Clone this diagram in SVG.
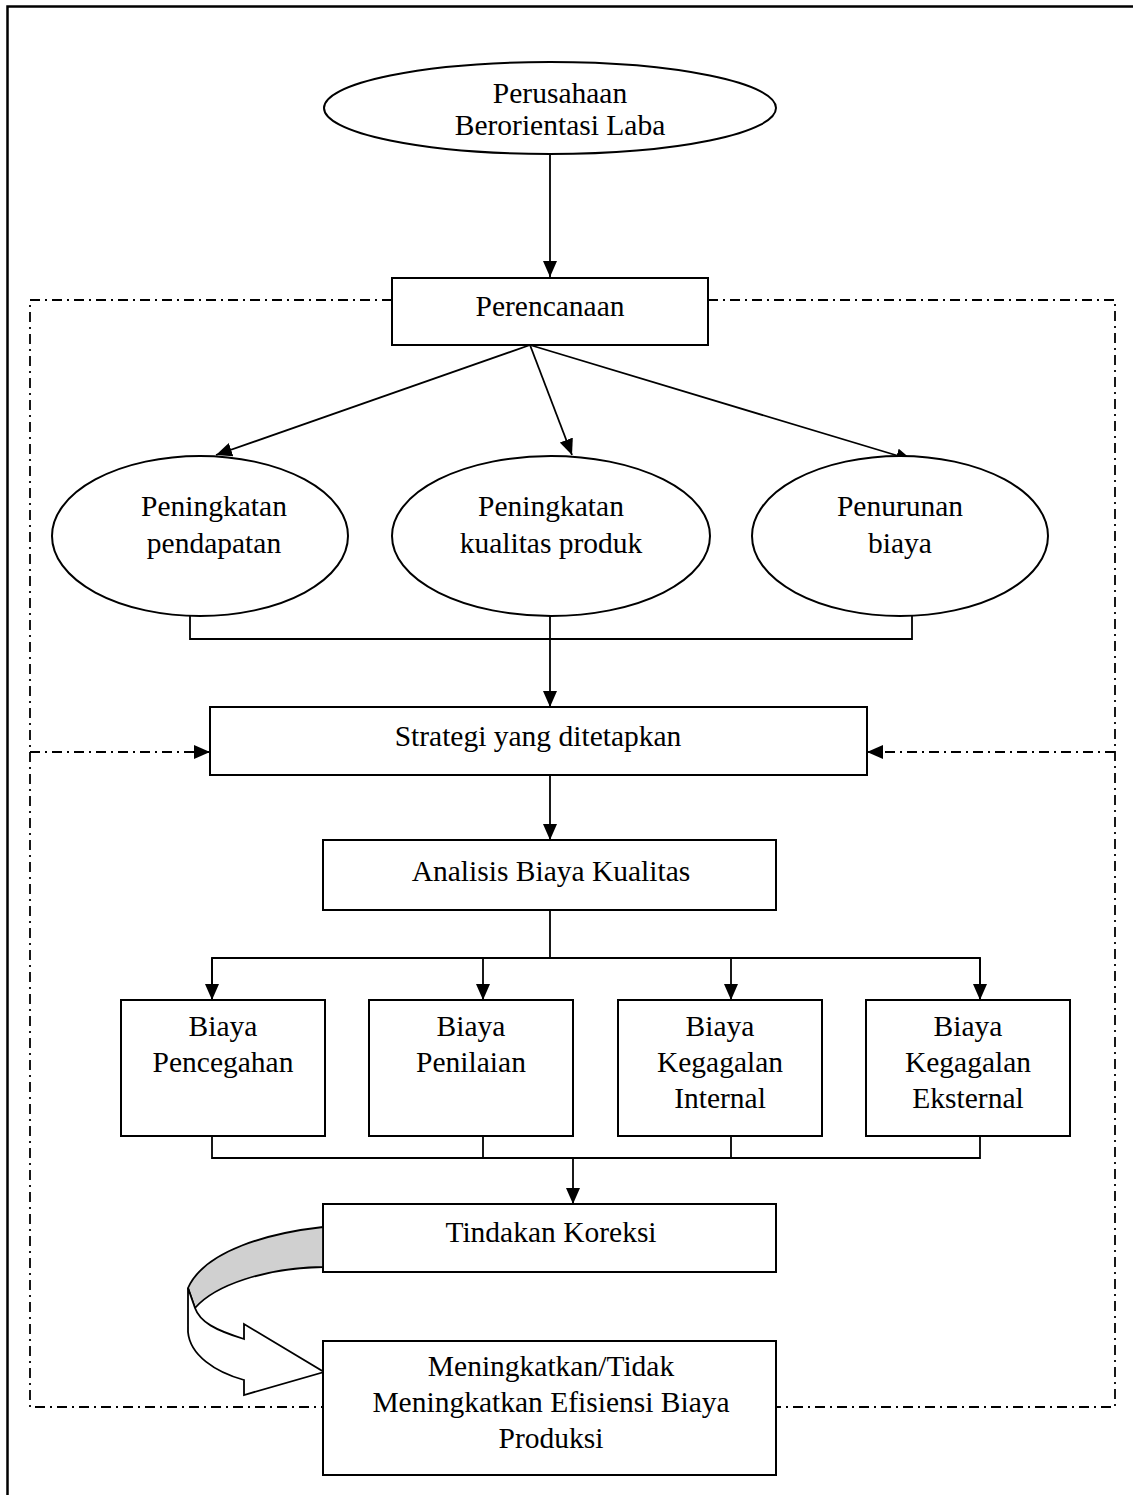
<svg xmlns="http://www.w3.org/2000/svg" width="1133" height="1495" viewBox="0 0 1133 1495">
<style>
.shape{fill:#fff;stroke:#000;stroke-width:2}
.conn{fill:none;stroke:#000;stroke-width:1.8}
.dd{fill:none;stroke:#000;stroke-width:1.8;stroke-dasharray:10 5 2 5}
text{font-family:"Liberation Serif","Times New Roman",serif;font-size:29.5px;fill:#000;text-anchor:middle}
</style>
<defs>
<marker id="ah" markerUnits="userSpaceOnUse" markerWidth="17" markerHeight="14" refX="16" refY="7" orient="auto">
<path d="M0,0 L16,7 L0,14 Z" fill="#000"/>
</marker>
</defs>
<rect x="0" y="0" width="1133" height="1495" fill="#fff"/>
<path d="M7.5,1495 V6.5 H1133" fill="none" stroke="#000" stroke-width="2.5"/>
<g id="frame">
<path class="dd" d="M392,300 H30 V1407 H323"/>
<path class="dd" d="M708,300 H1115 V1407 H776"/>
</g>
<g id="connectors">
<path class="conn" d="M550,154 V277" marker-end="url(#ah)"/>
<path class="conn" d="M530,345 L216,455" marker-end="url(#ah)"/>
<path class="conn" d="M530,345 L572,455" marker-end="url(#ah)"/>
<path class="conn" d="M530,345 L912,460" marker-end="url(#ah)"/>
<path class="conn" d="M190,616 V639 H912 V616 M550,616 V639"/>
<path class="conn" d="M550,639 V707" marker-end="url(#ah)"/>
<path class="dd" d="M30,752 H210" marker-end="url(#ah)"/>
<path class="dd" d="M1115,752 H867" marker-end="url(#ah)"/>
<path class="conn" d="M550,775 V840" marker-end="url(#ah)"/>
<path class="conn" d="M550,910 V958 M212,1000 V958 H980 V1000"/>
<path class="conn" d="M212,958 V1000" marker-end="url(#ah)"/>
<path class="conn" d="M483,958 V1000" marker-end="url(#ah)"/>
<path class="conn" d="M731,958 V1000" marker-end="url(#ah)"/>
<path class="conn" d="M980,958 V1000" marker-end="url(#ah)"/>
<path class="conn" d="M212,1136 V1158 H980 V1136 M483,1136 V1158 M731,1136 V1158"/>
<path class="conn" d="M573,1158 V1204" marker-end="url(#ah)"/>
</g>
<g id="n-perusahaan">
<ellipse class="shape" cx="550" cy="108" rx="226" ry="46"/>
<text x="560" y="103">Perusahaan</text>
<text x="560" y="135">Berorientasi Laba</text>
</g>
<g id="n-perencanaan">
<rect class="shape" x="392" y="278" width="316" height="67"/>
<text x="550" y="316">Perencanaan</text>
</g>
<g id="n-pendapatan">
<ellipse class="shape" cx="200" cy="536" rx="148" ry="80"/>
<text x="214" y="516">Peningkatan</text>
<text x="214" y="553">pendapatan</text>
</g>
<g id="n-kualitas">
<ellipse class="shape" cx="551" cy="536" rx="159" ry="80"/>
<text x="551" y="516">Peningkatan</text>
<text x="551" y="553">kualitas produk</text>
</g>
<g id="n-biaya">
<ellipse class="shape" cx="900" cy="536" rx="148" ry="80"/>
<text x="900" y="516">Penurunan</text>
<text x="900" y="553">biaya</text>
</g>
<g id="n-strategi">
<rect class="shape" x="210" y="707" width="657" height="68"/>
<text x="538" y="746">Strategi yang ditetapkan</text>
</g>
<g id="n-analisis">
<rect class="shape" x="323" y="840" width="453" height="70"/>
<text x="551" y="881">Analisis Biaya Kualitas</text>
</g>
<g id="n-pencegahan">
<rect class="shape" x="121" y="1000" width="204" height="136"/>
<text x="223" y="1036">Biaya</text>
<text x="223" y="1072">Pencegahan</text>
</g>
<g id="n-penilaian">
<rect class="shape" x="369" y="1000" width="204" height="136"/>
<text x="471" y="1036">Biaya</text>
<text x="471" y="1072">Penilaian</text>
</g>
<g id="n-internal">
<rect class="shape" x="618" y="1000" width="204" height="136"/>
<text x="720" y="1036">Biaya</text>
<text x="720" y="1072">Kegagalan</text>
<text x="720" y="1108">Internal</text>
</g>
<g id="n-eksternal">
<rect class="shape" x="866" y="1000" width="204" height="136"/>
<text x="968" y="1036">Biaya</text>
<text x="968" y="1072">Kegagalan</text>
<text x="968" y="1108">Eksternal</text>
</g>
<g id="n-tindakan">
<rect class="shape" x="323" y="1204" width="453" height="68"/>
<text x="551" y="1242">Tindakan Koreksi</text>
</g>
<g id="loop-arrow">
<path d="M323,1227 C270,1233 205,1250 188,1288 L195,1308 C215,1285 265,1268 323,1267 Z" fill="#d0d0d0" stroke="#000" stroke-width="1.8"/>
<path d="M188,1288 L188,1332 C190,1355 215,1372 244,1380 L244,1395 L324,1372 L244,1324 L244,1339 C215,1330 200,1322 195,1308 Z" fill="#fff" stroke="#000" stroke-width="1.8" stroke-linejoin="miter"/>
</g>
<g id="n-efisiensi">
<rect class="shape" x="323" y="1341" width="453" height="134"/>
<text x="551" y="1376">Meningkatkan/Tidak</text>
<text x="551" y="1412">Meningkatkan Efisiensi Biaya</text>
<text x="551" y="1448">Produksi</text>
</g>
</svg>
